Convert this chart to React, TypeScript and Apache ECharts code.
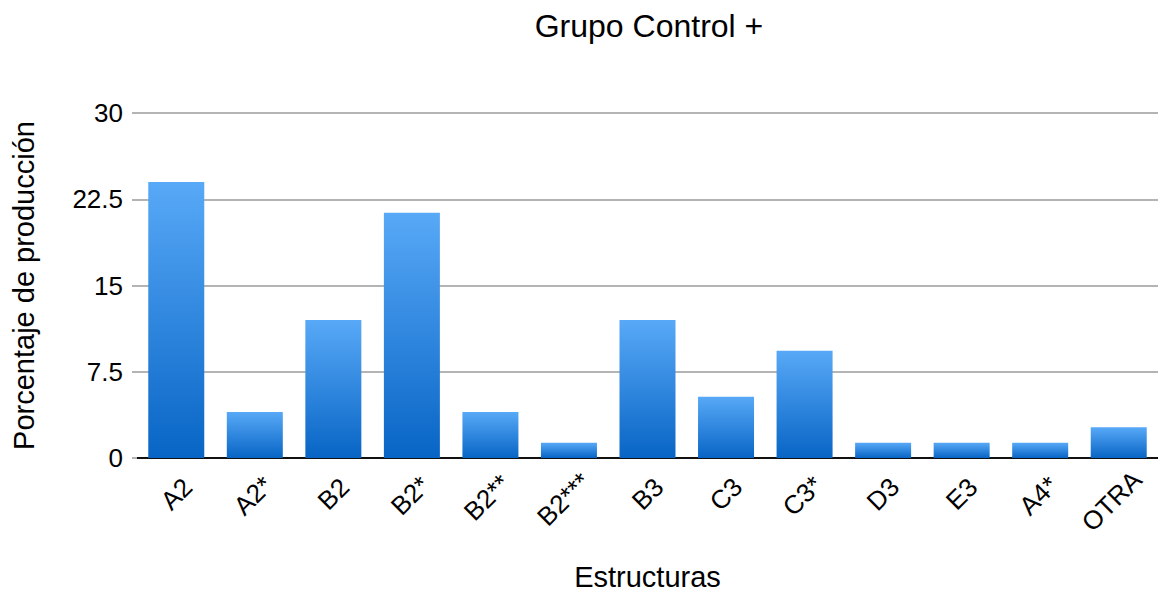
import React, { useEffect, useRef } from "react";
import * as echarts from "echarts";

const categories = ["A2", "A2*", "B2", "B2*", "B2**", "B2***", "B3", "C3", "C3*", "D3", "E3", "A4*", "OTRA"];
const values = [24, 4, 12, 21.33, 4, 1.33, 12, 5.33, 9.33, 1.33, 1.33, 1.33, 2.67];
const yTicks = { min: 0, max: 30, interval: 7.5 };
const titleText = "Grupo Control +";
const xName = "Estructuras";
const yName = "Porcentaje de producción";

const FONT = '"Liberation Sans", Arial, Helvetica, sans-serif';
const LABEL_SIZE = 26;
const ROT = 45;

export default function App() {
  const ref = useRef<HTMLDivElement>(null);
  useEffect(() => {
    if (!ref.current) return;
    const chart = echarts.init(ref.current, null, { renderer: "svg" });

    const canvas = document.createElement("canvas");
    const ctx = canvas.getContext("2d")!;
    ctx.font = `${LABEL_SIZE}px ${FONT}`;
    const widths = categories.map((c) => ctx.measureText(c).width);
    const wmin = Math.min(...widths);
    const th = (ROT * Math.PI) / 180;
    const s = Math.sin(th), c = Math.cos(th);
    const hv = LABEL_SIZE * 0.72;
    const Y0 = 479;
    const axisY = 461;
    const margin = Y0 - axisY + (wmin * s + hv * c) / 2;
    const catData = categories.map((cat, i) => {
      const d = widths[i] - wmin;
      const pr = d * s * s;
      const pt = d * s * c;
      return {
        value: cat,
        textStyle: {
          align: "center",
          verticalAlign: "middle",
          fontSize: LABEL_SIZE,
          fontFamily: FONT,
          color: "#000",
          padding: [pt, pr, 0, 0],
        },
      };
    });

    chart.setOption({
      animation: false,
      backgroundColor: "#ffffff",
      grid: { left: 137, right: 0, top: 113, bottom: 596 - axisY, containLabel: false },
      graphic: [
        {
          type: "text",
          x: 649,
          y: 10,
          style: {
            text: titleText,
            fontSize: 32,
            fontFamily: FONT,
            fill: "#000",
            align: "center",
            verticalAlign: "top",
          },
        },
      ],
      xAxis: {
        type: "category",
        data: catData,
        name: xName,
        nameLocation: "middle",
        nameGap: 104,
        nameTextStyle: { fontSize: 29, fontFamily: FONT, color: "#000" },
        axisLine: { show: true, lineStyle: { color: "#111", width: 2 } },
        axisTick: { show: false },
        axisLabel: {
          interval: 0,
          rotate: ROT,
          align: "center",
          verticalAlign: "middle",
          margin: margin,
          fontSize: LABEL_SIZE,
          fontFamily: FONT,
          color: "#000",
        },
      },
      yAxis: {
        type: "value",
        min: yTicks.min,
        max: yTicks.max,
        interval: yTicks.interval,
        name: yName,
        nameLocation: "middle",
        nameGap: 99,
        nameTextStyle: { fontSize: 29, fontFamily: FONT, color: "#000" },
        axisLine: { show: false },
        axisTick: { show: true, length: 5, lineStyle: { color: "#b4b4b4", width: 2 } },
        axisLabel: { margin: 14, fontSize: LABEL_SIZE, fontFamily: FONT, color: "#000" },
        splitLine: { show: true, lineStyle: { color: "#b4b4b4", width: 2 } },
      },
      series: [
        {
          type: "bar",
          data: values,
          barCategoryGap: "28.7%",
          itemStyle: {
            color: new echarts.graphic.LinearGradient(0, 0, 0, 1, [
              { offset: 0, color: "#58A9F7" },
              { offset: 1, color: "#0865C5" },
            ]),
          },
        },
      ],
    });
    return () => chart.dispose();
  }, []);
  return (
    <div
      ref={ref}
      style={{ position: "fixed", left: 0, top: 0, width: 1158, height: 596, background: "#fff" }}
    />
  );
}
